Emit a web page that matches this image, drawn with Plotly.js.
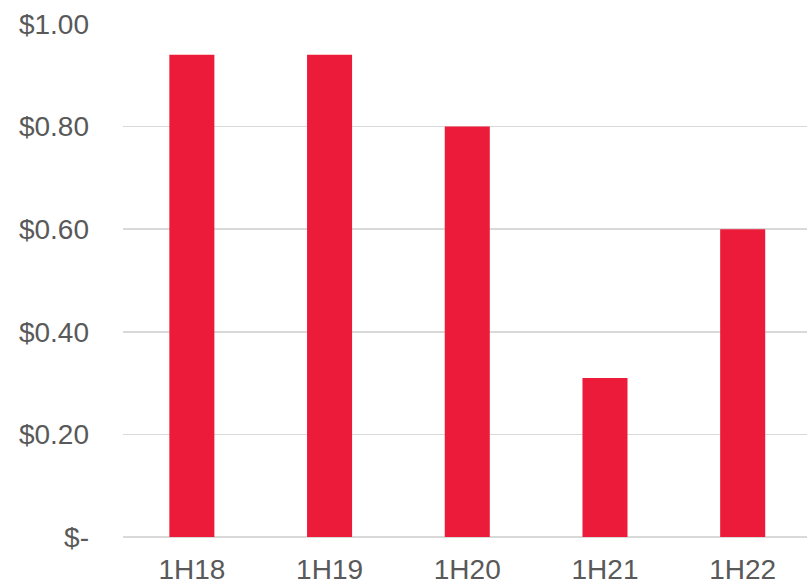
<!DOCTYPE html>
<html>
<head>
<meta charset="utf-8">
<script src="https://cdn.plot.ly/plotly-3.0.1.min.js"></script>
<style>
  html, body { margin: 0; padding: 0; background: #ffffff; }
  #chart { width: 807px; height: 584px; }
</style>
</head>
<body>
<div id="chart"></div>
<script>
// Half-year dividend per share
const periods = ["1H18", "1H19", "1H20", "1H21", "1H22"];
const dividends = [0.94, 0.94, 0.80, 0.31, 0.60];
const yTickValues = [0, 0.2, 0.4, 0.6, 0.8, 1.0];
const yTickLabels = ["$-", "$0.20", "$0.40", "$0.60", "$0.80", "$1.00"];

const trace = {
  type: "bar",
  x: periods,
  y: dividends,
  width: 0.327,
  marker: { color: "#ED1B3A", line: { width: 0 } },
  hoverinfo: "x+y"
};

const layout = {
  width: 807,
  height: 584,
  margin: { l: 123, r: 0, t: 23.5, b: 46.5, pad: 0 },
  paper_bgcolor: "#ffffff",
  plot_bgcolor: "#ffffff",
  showlegend: false,
  font: { family: "Liberation Sans, Arial, sans-serif", size: 28, color: "#595959" },
  xaxis: {
    type: "category",
    range: [-0.5, 4.467],
    showgrid: false,
    zeroline: false,
    showline: false,
    ticks: "",
    ticklabelstandoff: 13,
    tickfont: { size: 28, color: "#595959" }
  },
  yaxis: {
    range: [0, 1.0],
    tickvals: yTickValues,
    ticktext: yTickLabels,
    showgrid: true,
    gridcolor: "#D9D9D9",
    gridwidth: 1.5,
    zeroline: true,
    zerolinecolor: "#D9D9D9",
    zerolinewidth: 1.5,
    showline: false,
    ticks: "",
    ticklabelstandoff: 33,
    tickfont: { size: 28, color: "#595959" }
  }
};

Plotly.newPlot("chart", [trace], layout, { staticPlot: true, displayModeBar: false });
</script>
</body>
</html>
